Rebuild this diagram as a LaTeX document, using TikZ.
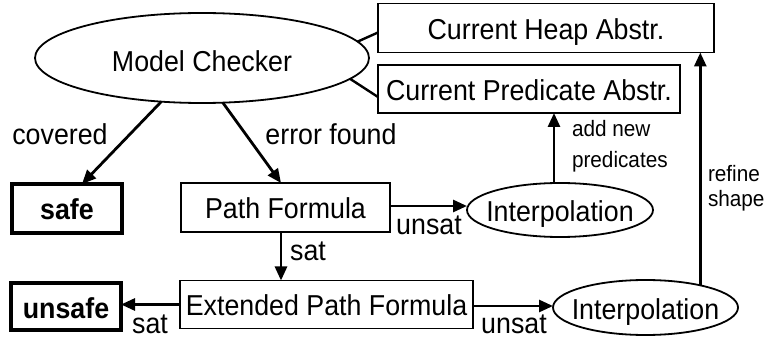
\documentclass[tikz,border=0pt]{standalone}
\usepackage{fontspec}
\setmainfont{Liberation Sans}[FakeStretch=0.93]
\usetikzlibrary{shapes.geometric,arrows.meta,calc}
\newcommand{\zw}[1]{\makebox[0pt]{#1}}
\begin{document}
\begin{tikzpicture}[x=1pt,y=-1pt,
  every node/.style={inner sep=0pt,outer sep=0pt},
  big/.style={font=\fontsize{28.8}{32}\selectfont},
  small/.style={font=\fontsize{22.3}{25}\selectfont},
  shapetext/.style={big,text height=23pt,text depth=0pt},
  box/.style={shapetext,draw,rectangle,line width=1.8pt},
  endbox/.style={shapetext,draw,rectangle,line width=4.5pt,font=\fontsize{28.8}{32}\selectfont\bfseries},
  oval/.style={shapetext,draw,ellipse,line width=1.8pt},
  link/.style={line width=2.4pt},
  arr/.style={line width=2.8pt,-{Triangle[length=14pt,width=12pt]}},
  lab/.style={big,anchor=base},
  slab/.style={small,anchor=base west}]
\useasboundingbox (0,0) rectangle (766,339);

\node[oval,text height=28pt,minimum width=334pt,minimum height=90pt] (mc) at (202,58) {\zw{Model Checker}};
\node[box,minimum width=336pt,minimum height=49pt] (heap) at (546,28) {\zw{Current Heap Abstr.}};
\node[box,minimum width=302pt,minimum height=48pt] (pred) at (529,89) {\zw{Current Predicate Abstr.}};
\node[endbox,minimum width=110pt,minimum height=49pt] (safe) at (67,208.5) {\zw{safe}};
\node[endbox,minimum width=110pt,minimum height=47pt] (unsafe) at (66,306.5) {\zw{unsafe}};
\node[box,minimum width=209pt,minimum height=49pt] (pf) at (285.5,207.5) {\zw{Path Formula}};
\node[box,minimum width=293pt,minimum height=48pt] (epf) at (326.5,304.5) {\zw{Extended Path Formula}};
\node[oval,minimum width=186pt,minimum height=54pt] (i1) at (560,210) {\zw{Interpolation}};
\node[oval,minimum width=185pt,minimum height=55pt] (i2) at (645.5,307.5) {\zw{Interpolation}};

\draw[link] (mc.6.6) -- ($(heap.west)+(0,4.5)$);
\draw[link] (mc.-8.5) -- ($(pred.west)+(0,8)$);

\draw[arr] (mc.-133) -- ($(safe.north)+(15,0)$);
\draw[arr] (mc.-65) -- ($(pf.north)+(-4.5,0)$);
\draw[arr] ($(pf.south)+(-4.5,0)$) -- ($(epf.north -| pf.south)+(-4.5,0)$);
\draw[arr] (epf.west) -- (epf.west -| unsafe.east);
\draw[arr] ($(pf.east)+(0,-1.5)$) -- ($(pf.east -| i1.west)+(0,-1.5)$);
\draw[arr] ($(epf.east)+(0,1.5)$) -- ($(epf.east -| i2.west)+(0,1.5)$);
\draw[arr] ($(i1.north)+(-6,0)$) -- ($(pred.south -| i1.north)+(-6,0)$);
\draw[arr] (i2.22) -- (i2.22 |- heap.south);

\node[lab] (lcov) at (60,145) {covered};
\node[lab] (lerr) at (331,145) {error found};
\node[lab] (lsat1) at (308,261) {sat};
\node[lab] (lsat2) at (150,333) {sat};
\node[lab] (lun1) at (429,235) {unsat};
\node[lab] (lun2) at (514,333) {unsat};
\node[slab] (ladd) at (572,137) {add new};
\node[slab] (lpred) at (572,168) {predicates};
\node[slab] (lref) at (708,182) {refine};
\node[slab] (lshape) at (708,207) {shape};
\end{tikzpicture}
\end{document}
